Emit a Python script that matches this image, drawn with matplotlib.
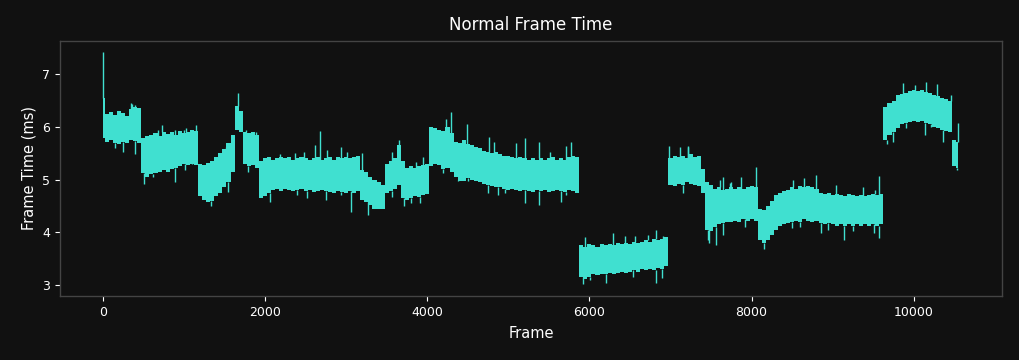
import numpy as np
import matplotlib
matplotlib.use("Agg")
import matplotlib.pyplot as plt

# ---- data (frame time band, ms) ----
frames = list(range(0, 10551, 50))

band_hi = [
    6.55, 6.25, 6.28, 6.22, 6.30, 6.26, 6.20, 6.33, 6.38, 6.35,   # 0-450
    5.78, 5.82, 5.85, 5.88, 5.82, 5.90, 5.86, 5.90, 5.85, 5.92,   # 500-950
    5.88, 5.90, 5.95, 5.92, 5.30, 5.28, 5.32, 5.35, 5.42, 5.50,   # 1000-1450
    5.58, 5.70, 5.85, 6.40, 6.30, 5.90, 5.88, 5.90, 5.85, 5.35,   # 1500-1950
    5.40, 5.42, 5.38, 5.40, 5.43, 5.40, 5.42, 5.38, 5.40, 5.42,   # 2000-2450
    5.40, 5.38, 5.40, 5.42, 5.38, 5.40, 5.42, 5.38, 5.42, 5.40,   # 2500-2950
    5.43, 5.40, 5.42, 5.45, 5.18, 5.15, 5.05, 5.00, 4.95, 4.90,   # 3000-3450
    5.30, 5.35, 5.40, 5.65, 5.35, 5.22, 5.25, 5.22, 5.25, 5.28,   # 3500-3950
    5.30, 6.00, 5.98, 5.95, 5.92, 6.00, 5.88, 5.72, 5.70, 5.75,   # 4000-4450
    5.68, 5.65, 5.62, 5.60, 5.55, 5.52, 5.50, 5.52, 5.48, 5.45,   # 4500-4950
    5.45, 5.42, 5.40, 5.42, 5.40, 5.38, 5.40, 5.38, 5.40, 5.38,   # 5000-5450
    5.40, 5.42, 5.38, 5.40, 5.38, 5.42, 5.45, 5.42, 3.75, 3.72,   # 5500-5950
    3.78, 3.75, 3.72, 3.78, 3.75, 3.78, 3.75, 3.80, 3.78, 3.80,   # 6000-6450
    3.78, 3.82, 3.80, 3.82, 3.85, 3.82, 3.88, 3.85, 3.88, 3.90,   # 6500-6950
    5.40, 5.45, 5.42, 5.45, 5.40, 5.48, 5.42, 5.45, 5.20, 4.95,   # 7000-7450
    4.90, 4.82, 4.85, 4.80, 4.82, 4.85, 4.82, 4.85, 4.82, 4.85,   # 7500-7950
    4.88, 4.85, 4.45, 4.42, 4.50, 4.60, 4.70, 4.75, 4.78, 4.80,   # 8000-8450
    4.85, 4.82, 4.88, 4.85, 4.88, 4.85, 4.82, 4.75, 4.72, 4.75,   # 8500-8950
    4.70, 4.72, 4.70, 4.68, 4.72, 4.70, 4.68, 4.70, 4.68, 4.70,   # 9000-9450
    4.72, 4.70, 4.72, 6.38, 6.45, 6.50, 6.60, 6.62, 6.65, 6.68,   # 9500-9950
    6.70, 6.68, 6.70, 6.66, 6.65, 6.60, 6.58, 6.55, 6.52, 6.50,   # 10000-10450
    5.75, 5.72,                                                   # 10500-10550
]

band_lo = [
    5.78, 5.72, 5.75, 5.70, 5.68, 5.72, 5.70, 5.75, 5.73, 5.70,
    5.12, 5.05, 5.10, 5.12, 5.15, 5.18, 5.15, 5.20, 5.22, 5.25,
    5.30, 5.28, 5.30, 5.28, 4.68, 4.62, 4.58, 4.60, 4.68, 4.75,
    4.85, 4.95, 5.15, 5.95, 5.90, 5.30, 5.25, 5.28, 5.22, 4.65,
    4.68, 4.75, 4.80, 4.82, 4.78, 4.82, 4.80, 4.78, 4.80, 4.82,
    4.78, 4.80, 4.76, 4.78, 4.80, 4.78, 4.76, 4.75, 4.78, 4.76,
    4.75, 4.78, 4.75, 4.78, 4.62, 4.58, 4.52, 4.45, 4.45, 4.45,
    4.75, 4.78, 4.82, 4.90, 4.65, 4.62, 4.65, 4.68, 4.66, 4.70,
    4.72, 5.25, 5.30, 5.28, 5.20, 5.22, 5.15, 5.05, 4.98, 4.98,
    5.02, 5.00, 4.98, 4.95, 4.92, 4.90, 4.88, 4.86, 4.85, 4.82,
    4.80, 4.82, 4.80, 4.78, 4.80, 4.78, 4.76, 4.80, 4.78, 4.80,
    4.76, 4.78, 4.80, 4.78, 4.76, 4.80, 4.78, 4.75, 3.15, 3.12,
    3.15, 3.20, 3.18, 3.20, 3.20, 3.22, 3.20, 3.22, 3.25, 3.22,
    3.25, 3.28, 3.25, 3.30, 3.28, 3.30, 3.28, 3.32, 3.30, 3.35,
    4.90, 4.88, 4.92, 4.90, 4.95, 4.92, 4.90, 4.88, 4.75, 4.05,
    4.02, 4.10, 4.15, 4.18, 4.20, 4.20, 4.22, 4.20, 4.25, 4.22,
    4.25, 4.22, 3.85, 3.80, 3.85, 3.95, 4.05, 4.12, 4.15, 4.18,
    4.20, 4.22, 4.20, 4.25, 4.22, 4.20, 4.22, 4.18, 4.15, 4.18,
    4.15, 4.12, 4.15, 4.12, 4.15, 4.12, 4.15, 4.12, 4.15, 4.12,
    4.15, 4.12, 4.15, 5.75, 5.85, 5.90, 5.98, 6.05, 6.08, 6.10,
    6.12, 6.10, 6.12, 6.08, 6.05, 6.00, 5.98, 5.95, 5.92, 5.90,
    5.25, 5.22,
]

# isolated spikes above / below the band: frame, value
spike_frames = [
    0, 350, 354, 395, 682, 735, 888, 1000, 1032, 1104, 1150, 1525, 1670,
    1771, 1890, 2182, 2367, 2482, 2614, 2684, 2770, 2943, 3005, 3190, 3560,
    3650, 3868, 3950, 4230, 4291, 4488, 4763, 4825, 5101, 5204, 5376, 5512,
    5717, 5779, 5944, 6285, 6437, 6560, 6724, 6819, 6909, 6979, 7115, 7214,
    7217, 7608, 7650, 7731, 7752, 7875, 8052, 8512, 8648, 8800, 9046, 9375,
    9519, 9570, 9861, 10012, 10156, 10280, 10456, 10540,
    148, 250, 403, 509, 620, 888, 1011, 1258, 1340, 1541, 1792, 2059, 2400,
    2524, 2758, 2943, 3058, 3268, 3560, 3711, 3805, 3916, 4196, 4381, 4504,
    4747, 4874, 4956, 5212, 5376, 5647, 5717, 5915, 6005, 6210, 6539, 6819,
    6900, 7156, 7464, 7473, 7567, 7649, 7916, 8150, 8492, 8595, 8850, 8944,
    9137, 9252, 9510, 9570, 9667, 9741, 9907, 10136, 10217, 10366, 10530,
]
spike_values = [
    7.42, 6.45, 6.44, 6.41, 5.95, 6.03, 5.95, 5.95, 5.98, 5.95, 6.03, 5.62, 6.64,
    5.94, 5.90, 5.48, 5.50, 5.52, 5.65, 5.93, 5.57, 5.62, 5.52, 5.50, 5.52,
    5.75, 5.34, 5.42, 6.15, 6.28, 6.05, 5.81, 5.72, 5.69, 5.78, 5.72, 5.52,
    5.64, 5.72, 3.90, 3.98, 3.93, 3.92, 3.95, 4.04, 3.92, 5.64, 5.62, 5.62,
    5.63, 4.99, 5.05, 4.94, 4.95, 5.05, 5.24, 4.99, 5.03, 5.08, 4.90, 4.86,
    4.80, 5.07, 6.83, 6.79, 6.85, 6.82, 6.61, 6.07,
    5.60, 5.53, 5.49, 4.91, 5.04, 4.96, 5.18, 4.61, 4.50, 4.77, 5.15, 4.58, 4.71,
    4.65, 4.62, 4.71, 4.38, 4.33, 4.66, 4.50, 4.56, 4.56, 5.12, 4.99, 4.97,
    4.75, 4.71, 4.74, 4.55, 4.52, 4.58, 4.71, 3.02, 3.09, 3.04, 3.14, 3.04,
    3.13, 4.74, 3.85, 3.80, 3.75, 3.95, 4.10, 3.68, 4.08, 4.10, 3.98, 4.04,
    3.85, 4.03, 3.98, 3.89, 5.67, 5.72, 5.97, 5.84, 6.00, 5.72, 5.18,
]

LINE = "#40E0D0"
BG = "#111111"

fig = plt.figure(figsize=(10.2, 3.6), dpi=100, facecolor=BG)
ax = fig.add_axes([0.0588, 0.178, 0.9236, 0.708])
ax.set_facecolor(BG)

fr = np.asarray(frames)
hi = np.asarray(band_hi)
lo = np.asarray(band_lo)
ax.fill_between(fr, lo, hi, step="mid", color=LINE, linewidth=0)

sf = np.asarray(spike_frames)
sv = np.asarray(spike_values)
idx = np.clip(np.round(sf / 50).astype(int), 0, len(fr) - 1)
base = np.where(sv > hi[idx], hi[idx], lo[idx])
ax.vlines(sf, base, sv, color=LINE, linewidth=1.0)

ax.set_xlim(-528, 11088)
ax.set_ylim(2.79, 7.63)
ax.set_xticks([0, 2000, 4000, 6000, 8000, 10000])
ax.set_yticks([3, 4, 5, 6, 7])

for s in ax.spines.values():
    s.set_color("#444444")
    s.set_linewidth(1.0)
ax.tick_params(colors="white", labelsize=9, length=3.5, width=0.8)

ax.set_title("Normal Frame Time", color="white", fontsize=12, pad=8)
ax.set_xlabel("Frame", color="white", fontsize=10.5, labelpad=5.5)
ax.set_ylabel("Frame Time (ms)", color="white", fontsize=10.5, labelpad=4)

fig.savefig("out.png", dpi=100, facecolor=BG)
